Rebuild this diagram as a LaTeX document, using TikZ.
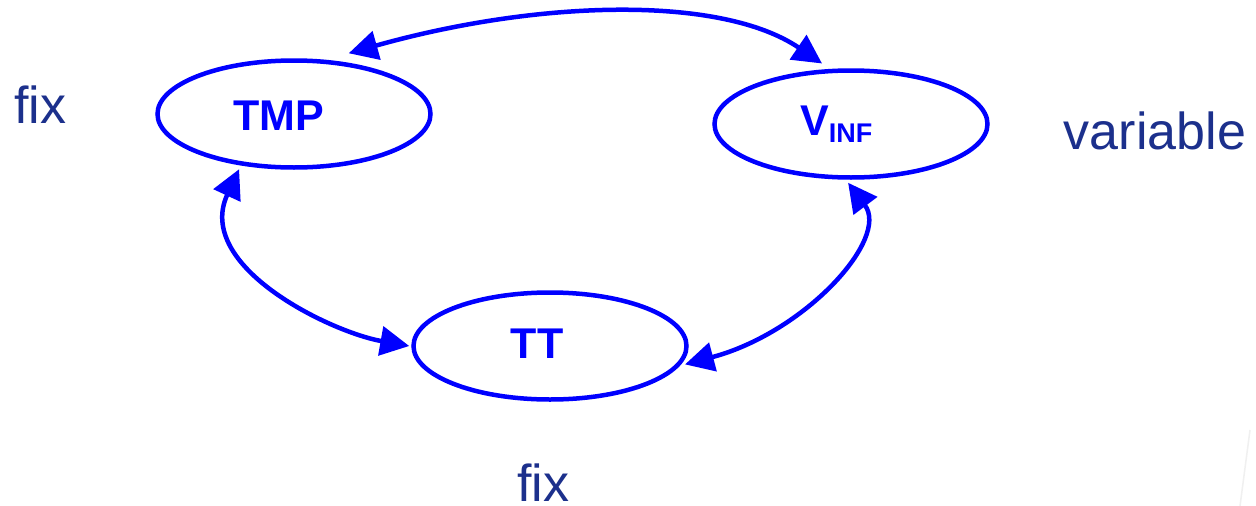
\documentclass[tikz,border=0pt]{standalone}
\usepackage{fontspec}
\setmainfont{Liberation Sans}
\usetikzlibrary{arrows.meta,shapes.geometric}
\definecolor{nodeblue}{RGB}{0,0,255}
\definecolor{txtblue}{RGB}{28,48,140}
\begin{document}
\begin{tikzpicture}[x=1pt,y=-1pt,
 state/.style={ellipse,draw=nodeblue,line width=4.5pt,minimum width=273pt,minimum height=107pt,inner sep=0pt},
 lbl/.style={text=nodeblue,font=\bfseries\fontsize{43}{43}\selectfont,inner sep=0pt,anchor=base},
 side/.style={text=txtblue,font=\fontsize{52}{52}\selectfont,inner sep=0pt,anchor=base},
 conn/.style={draw=nodeblue,line width=4.5pt,{Triangle[length=29pt,width=29pt]}-{Triangle[length=29pt,width=29pt]}}]
\useasboundingbox[fill=white] (0,0) rectangle (1256,506);
\node[state] (tmp) at (294,114) {};
\node[state] (vinf) at (851,124) {};
\node[state] (tt) at (550,346) {};
\node[lbl] (tmpl) at (279,130) {TMP};
\node[lbl,anchor=base west] (vinfl) at (800,135) {V\raisebox{-7pt}{\fontsize{27}{27}\selectfont INF}};
\node[lbl] (ttl) at (537,358) {TT};
\node[side] (fix1) at (40,123) {fix};
\node[side] (var) at (1155,149) {variable};
\node[side] (fix2) at (543,501) {fix};
\draw[conn] ([xshift=3pt,yshift=9pt]tmp.45) .. controls +(192,-54) and +(-100,-68) .. ([yshift=6pt]vinf.118);
\draw[conn] ([yshift=-4pt]tmp.223) .. controls +(-45,97) and +(-79,-14) .. ([xshift=-2pt]tt.west);
\draw[conn] ([xshift=4pt]tt.-8) .. controls +(120,-32) and +(42,56) .. ([yshift=-3pt]vinf.267);
\draw[gray!12,line width=1.5pt] (1250,430) -- (1240,506);
\end{tikzpicture}
\end{document}
